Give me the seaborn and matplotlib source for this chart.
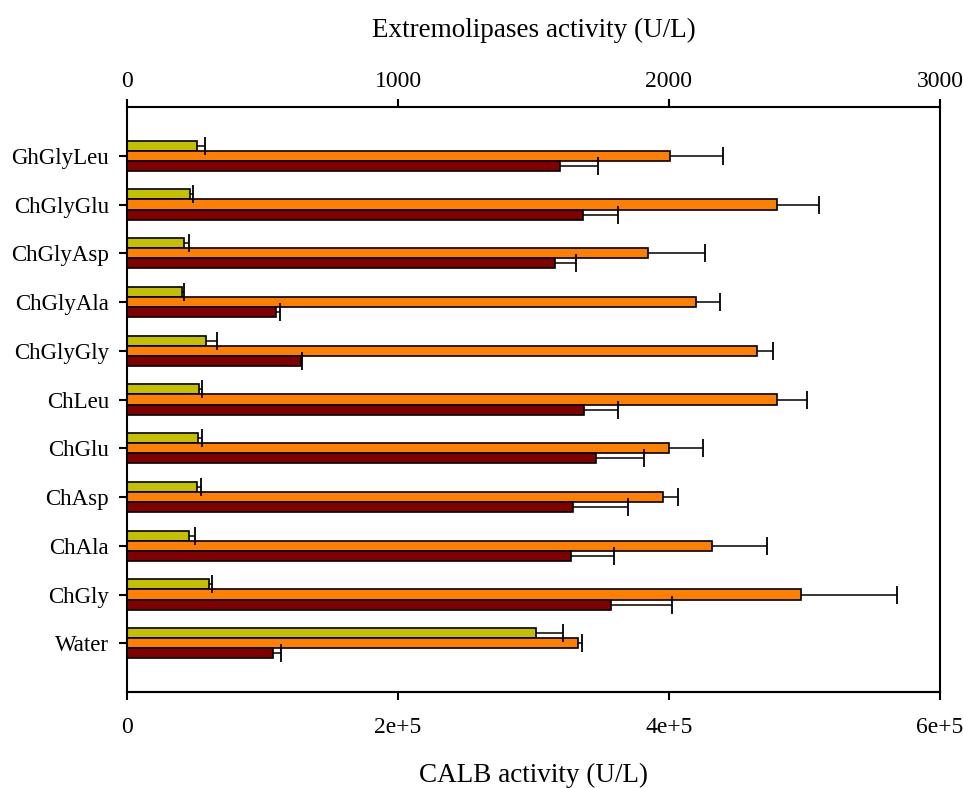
import seaborn as sns
import matplotlib.pyplot as plt
import pandas as pd
import numpy as np

# solvents, top to bottom
solvents = ['GhGlyLeu', 'ChGlyGlu', 'ChGlyAsp', 'ChGlyAla', 'ChGlyGly', 'ChLeu',
            'ChGlu', 'ChAsp', 'ChAla', 'ChGly', 'Water']

# CALB activity (U/L), bottom axis
calb = [51900, 46200, 42300, 40800, 58500, 53400, 52600, 51400, 46000, 60500, 301800]
calb_err = [5900, 2800, 3700, 1500, 8100, 2200, 3000, 2900, 4400, 2500, 20200]

# extremolipases activity (U/L), top axis
lip1 = [2005, 2397, 1924, 2100, 2323, 2397, 2001, 1979, 2159, 2487, 1664]
lip1_err = [193, 158, 210, 88, 62, 112, 123, 55, 204, 353, 14]
lip2 = [1596, 1683, 1578, 551, 641, 1687, 1732, 1646, 1638, 1787, 540]
lip2_err = [142, 127, 79, 15, 3, 126, 177, 201, 159, 224, 27]

series = ['CALB', 'Lipase 1', 'Lipase 2']
colors = ['#c4c000', '#ff8000', '#800000']

# bottom axis (CALB) is 200x the top axis
ratio = 200.0

values = {
    'CALB': (np.array(calb) / ratio, np.array(calb_err) / ratio),
    'Lipase 1': (np.array(lip1), np.array(lip1_err)),
    'Lipase 2': (np.array(lip2), np.array(lip2_err)),
}

rows = []
for name in series:
    for s, v in zip(solvents, values[name][0]):
        rows.append({'solvent': s, 'enzyme': name, 'activity': v})
df = pd.DataFrame(rows)

sns.set_style('ticks')
plt.rcParams['font.family'] = ['Liberation Serif', 'DejaVu Serif']
plt.rcParams['text.color'] = 'black'
plt.rcParams['axes.labelcolor'] = 'black'
plt.rcParams['xtick.color'] = 'black'
plt.rcParams['ytick.color'] = 'black'

fig = plt.figure(figsize=(9.63, 7.88), dpi=100)
ax = fig.add_axes([127 / 963, 1 - 692 / 788, (940 - 127) / 963, (692 - 107) / 788])

sns.barplot(data=df, y='solvent', x='activity', hue='enzyme', order=solvents,
            hue_order=series, palette=colors, saturation=1, orient='h',
            width=0.62, edgecolor='black', linewidth=1.2, errorbar=None,
            legend=False, ax=ax)

# one-sided error bars (line from bar end, cap only at the far end)
for cont, name in zip(ax.containers, series):
    errs = values[name][1]
    for bar, e in zip(cont, errs):
        y = bar.get_y() + bar.get_height() / 2
        x = bar.get_width()
        ax.hlines(y, x, x + e, color='black', linewidth=1.1, zorder=3)
        ax.plot([x + e], [y], marker='|', markersize=13, markeredgewidth=1.3,
                color='black', zorder=3)

ax.set_xlim(0, 3000)
ax.set_ylim(11, -1)
ax.set_ylabel('')
for sp in ax.spines.values():
    sp.set_visible(True)
    sp.set_linewidth(1.5)
    sp.set_color('black')

# top axis: extremolipases
ax.xaxis.tick_top()
ax.xaxis.set_label_position('top')
ax.set_xticks([0, 1000, 2000, 3000])
ax.set_xlabel('Extremolipases activity (U/L)', fontsize=19.5, labelpad=24)
ax.tick_params(axis='x', which='major', direction='out', length=6, width=1.5,
               labelsize=17, pad=5, colors='black')
ax.tick_params(axis='y', direction='out', length=6, width=1.5, labelsize=16.5,
               pad=7, colors='black')

# bottom axis: CALB
sec = ax.secondary_xaxis('bottom', functions=(lambda x: x * ratio, lambda x: x / ratio))
sec.set_xticks([0, 2e5, 4e5, 6e5])
sec.set_xticklabels(['0', '2e+5', '4e+5', '6e+5'])
sec.tick_params(direction='out', length=6, width=1.5, labelsize=17, pad=12,
                colors='black')
sec.spines['bottom'].set_linewidth(1.5)
sec.set_xlabel('CALB activity (U/L)', fontsize=19.5, labelpad=18)

fig.savefig('out.png', dpi=100, facecolor='white')
plt.close(fig)
